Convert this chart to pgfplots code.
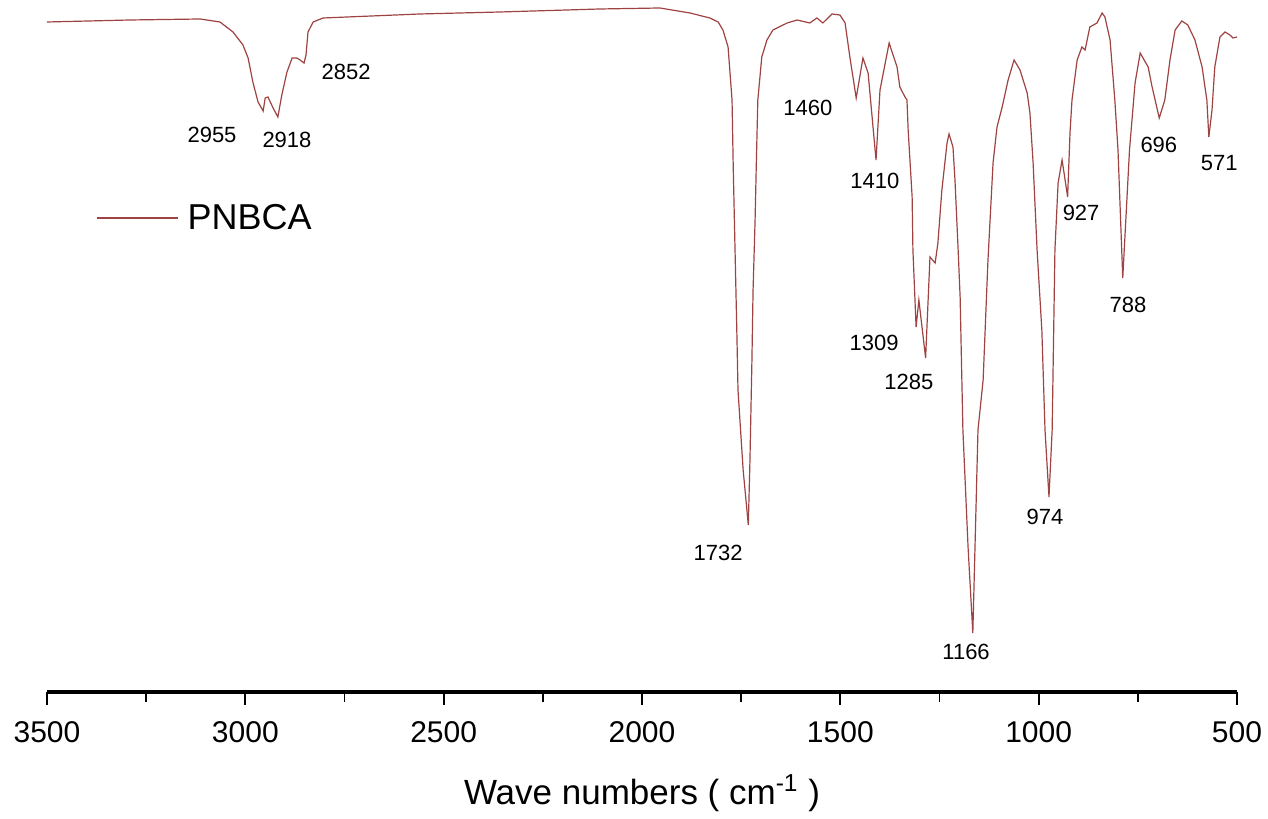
\documentclass[border=0pt]{standalone}
\usepackage{fontspec}
\setmainfont{Liberation Sans}
\usepackage{pgfplots}
\pgfplotsset{compat=1.18}
\definecolor{spec}{RGB}{158,66,66}
\begin{document}
\begin{tikzpicture}
\begin{axis}[
  scale only axis, width=595pt, height=346pt,
  x dir=reverse, xmin=500, xmax=3500, ymin=0, ymax=692,
  axis x line=bottom, axis y line=none,
  axis line style={-, line width=1.7pt},
  xtick={500,1000,...,3500}, minor x tick num=1,
  tick align=outside,
  major tick length=6.5pt, minor tick length=5pt,
  every tick/.style={black, line width=0.9pt},
  /pgf/number format/assume math mode=true,
  /pgf/number format/1000 sep={},
  xticklabel style={font=\fontsize{15}{18}\selectfont, yshift=-4.5pt},
  xlabel={Wave numbers ( cm\textsuperscript{-1} )},
  xlabel style={font=\fontsize{17.5}{21}\selectfont, at={(axis description cs:0.5,-0.146)}, anchor=center},
  clip=false,
  legend style={draw=none, fill=none, at={(rel axis cs:0.0412,0.685)}, anchor=west, inner sep=0pt, font=\fontsize{18}{21}\selectfont, legend cell align=left},
  legend image code/.code={\draw[#1] (0pt,0pt) -- (40.5pt,0pt); \path (43pt,0pt);},
]
\addplot[spec, line width=0.6pt] coordinates {
(3500,670) (3291,672) (3114,673) (3064,670) (3031,660) (3006,647) (2993,634)
(2981,610) (2968,590) (2955,581) (2950,594) (2943,595) (2930,584) (2918,575)
(2908,597) (2895,620) (2882,634) (2870,634) (2862,632) (2852,629) (2847,637)
(2842,660) (2829,670) (2804,674) (2560,678) (2358,680) (2106,683) (1955,684)
(1879,679) (1829,674) (1808,670) (1796,662) (1783,645) (1773,592) (1770,525)
(1766,452) (1761,362) (1758,302) (1745,222) (1732,167) (1728,229) (1723,329)
(1720,402) (1715,470) (1712,525) (1708,592) (1698,635) (1685,652) (1670,662)
(1634,669) (1609,672) (1577,669) (1559,674) (1544,669) (1521,678) (1501,677)
(1488,669) (1476,635) (1460,594) (1443,634) (1430,619) (1410,532) (1400,602)
(1377,649) (1357,625) (1350,605) (1337,595) (1332,592) (1329,562) (1319,495)
(1317,442) (1309,365) (1302,392) (1285,334) (1274,435) (1261,429) (1254,449)
(1244,502) (1231,549) (1226,558) (1216,545) (1211,512) (1203,442) (1198,395)
(1191,262) (1178,145) (1166,59) (1153,262) (1140,312) (1128,430) (1115,529)
(1105,565) (1092,585) (1077,612) (1062,632) (1047,622) (1029,599) (1022,579)
(1014,529) (1004,442) (992,362) (984,262) (974,195) (966,262) (959,442)
(951,509) (941,532) (936,519) (927,495) (921,559) (916,592) (903,632)
(891,645) (883,642) (871,665) (853,669) (840,679) (833,675) (820,652)
(808,592) (800,542) (788,414) (771,542) (757,609) (744,639) (737,634)
(724,625) (714,605) (696,574) (682,592) (669,632) (656,662) (639,671)
(624,667) (606,652) (588,625) (576,592) (571,555) (563,582) (556,625)
(543,655) (530,660) (518,657) (510,654) (500,655)
};
\addlegendentry{PNBCA}
\begin{scope}[every node/.style={font=\fontsize{11}{13}\selectfont, inner sep=0pt}]
\node at (axis cs:3084,557) {2955};
\node at (axis cs:2895,552) {2918};
\node at (axis cs:2746,620) {2852};
\node at (axis cs:1582,584) {1460};
\node at (axis cs:1413,511) {1410};
\node at (axis cs:1415,349) {1309};
\node at (axis cs:1327,310) {1285};
\node at (axis cs:1808,139) {1732};
\node at (axis cs:1183,40) {1166};
\node at (axis cs:984,175) {974};
\node at (axis cs:893,479) {927};
\node at (axis cs:775,387) {788};
\node at (axis cs:697,547) {696};
\node at (axis cs:545,529) {571};
\end{scope}
\coordinate (bl) at (rel axis cs:-0.0395,-0.1835);
\coordinate (tr) at (rel axis cs:1.02605,1);
\end{axis}
\pgfresetboundingbox
\useasboundingbox (bl) rectangle (tr);
\end{tikzpicture}
\end{document}
